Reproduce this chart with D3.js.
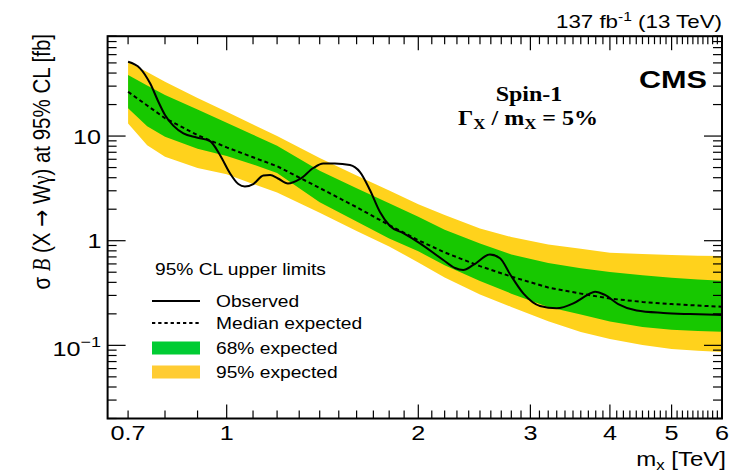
<!DOCTYPE html>
<html><head><meta charset="utf-8">
<script src="https://cdn.jsdelivr.net/npm/d3@7"></script>
<style>html,body{margin:0;background:#fff}svg{display:block}</style>
</head><body>
<svg id="chart" width="729" height="474"></svg>
<script>
// Expected-limit bands (mass in TeV, limits in fb)
const bandMass   = [0.7, 0.75, 0.8, 0.9, 1.0, 1.1, 1.2, 1.4, 1.6, 1.8, 2.0, 2.2, 2.5, 2.8, 3.2, 3.6, 4.0, 4.5, 5.0, 5.5, 6.0];
const exp95Up    = [51.4, 40.9, 33.1, 23.1, 17.1, 12.9, 9.99, 6.16, 4.20, 3.02, 2.23, 1.76, 1.31, 1.085, 0.922, 0.837, 0.768, 0.746, 0.732, 0.720, 0.714];
const exp68Up    = [38.3, 30.5, 24.7, 17.9, 13.4, 10.3, 8.07, 4.66, 3.18, 2.28, 1.69, 1.27, 0.938, 0.740, 0.614, 0.547, 0.502, 0.468, 0.442, 0.427, 0.415];
const expMedian  = [26.5, 19.6, 14.8, 10.2, 7.79, 6.27, 5.15, 3.19, 2.09, 1.41, 1.01, 0.773, 0.571, 0.454, 0.357, 0.312, 0.280, 0.260, 0.248, 0.240, 0.234];
const exp68Down  = [18.4, 12.4, 9.86, 7.57, 6.45, 5.36, 4.43, 2.33, 1.53, 1.05, 0.792, 0.583, 0.412, 0.312, 0.233, 0.197, 0.169, 0.150, 0.141, 0.137, 0.135];
const exp95Down  = [13.2, 8.16, 6.35, 4.94, 4.31, 3.48, 2.89, 1.85, 1.24, 0.882, 0.620, 0.444, 0.307, 0.233, 0.170, 0.134, 0.115, 0.101, 0.0925, 0.0889, 0.0864];

// Observed limit
const obsMass  = [0.70, 0.731, 0.758, 0.781, 0.80, 0.825, 0.855, 0.897, 0.941, 0.976, 1.012, 1.043, 1.068, 1.101, 1.142, 1.170, 1.204, 1.248, 1.304, 1.368, 1.418, 1.479, 1.562, 1.620, 1.679, 1.741, 1.805, 1.894, 2.012, 2.189, 2.284, 2.353, 2.440, 2.592, 2.688, 2.786, 2.924, 3.106, 3.299, 3.504, 3.699, 3.790, 3.930, 4.122, 4.406, 4.852, 5.342, 6.0];
const obsLimit = [51.3, 44.4, 31.9, 21.3, 15.9, 12.5, 10.6, 9.69, 8.97, 6.59, 4.41, 3.48, 3.30, 3.48, 4.20, 4.24, 3.93, 3.52, 3.89, 4.95, 5.47, 5.47, 5.29, 4.53, 3.05, 1.88, 1.38, 1.18, 0.944, 0.654, 0.548, 0.525, 0.586, 0.738, 0.679, 0.481, 0.314, 0.238, 0.226, 0.252, 0.306, 0.326, 0.303, 0.248, 0.215, 0.204, 0.199, 0.195];

// Axis tick labels
const xTickLabels = [0.7, 1, 2, 3, 4, 5, 6];
const xMajorTicks = [1, 2, 3, 4, 5, 6];
const yMajorTicks = [0.1, 1, 10];
const legendLabels = ["Observed", "Median expected", "68% expected", "95% expected"];

const colors = { band68: "#17c800", band95: "#ffd21c", leg68: "#00cc33", leg95: "#ffcc33" };

const svg = d3.select("#chart");
const x = d3.scaleLog().domain([0.65, 6]).range([107.6, 722]);
const y = d3.scaleLog().domain([0.02, 90]).range([418.5, 36.2]);
const [xl, xr] = x.range(), [yb, yt] = y.range();

const SANS = "'Liberation Sans', Arial, Helvetica, sans-serif";
const SERIF = "'Liberation Serif', 'Times New Roman', serif";
const SX = 1.2; // glyphs are drawn slightly wide

function textAt(px, py, anchor, size, opt = {}) {
  let tf = `translate(${px},${py}) scale(${opt.sx || SX},1)`;
  if (opt.rot) tf += ` rotate(${opt.rot})`;
  const g = svg.append("g").attr("transform", tf);
  return g.append("text")
    .attr("text-anchor", anchor)
    .attr("font-size", size)
    .attr("font-family", opt.family || SANS)
    .attr("font-weight", opt.weight || "normal")
    .attr("fill", "#000");
}

svg.append("defs").append("clipPath").attr("id", "plotclip")
  .append("rect").attr("x", xl).attr("y", yt).attr("width", xr - xl).attr("height", yb - yt);

const plot = svg.append("g").attr("clip-path", "url(#plotclip)");
const idx = d3.range(bandMass.length);

const area = (lo, hi) => d3.area()
  .x(i => x(bandMass[i])).y0(i => y(lo[i])).y1(i => y(hi[i]));

plot.append("path").attr("d", area(exp95Down, exp95Up)(idx)).attr("fill", colors.band95);
plot.append("path").attr("d", area(exp68Down, exp68Up)(idx)).attr("fill", colors.band68);

plot.append("path")
  .attr("d", d3.line().x(i => x(bandMass[i])).y(i => y(expMedian[i]))(idx))
  .attr("fill", "none").attr("stroke", "#000").attr("stroke-width", 2)
  .attr("stroke-dasharray", "4,3");

plot.append("path")
  .attr("d", d3.line().curve(d3.curveMonotoneX)
    .x(i => x(obsMass[i])).y(i => y(obsLimit[i]))(d3.range(obsMass.length)))
  .attr("fill", "none").attr("stroke", "#000").attr("stroke-width", 2);

// Ticks on all four sides, pointing inwards
const ticks = svg.append("g").attr("stroke", "#000").attr("stroke-width", 1.2);
const xMinor = [];
for (let v = 7; v <= 60; v++) { const m = v / 10; if (!xMajorTicks.includes(m)) xMinor.push(m); }
const yMinor = [];
[0.01, 0.1, 1, 10].forEach(d => { for (let k = 2; k <= 9; k++) { const v = d * k; if (v >= 0.02 && v <= 90) yMinor.push(+v.toPrecision(3)); } });

function xTicks(vals, len) {
  vals.forEach(v => {
    const px = x(v);
    ticks.append("line").attr("x1", px).attr("x2", px).attr("y1", yb).attr("y2", yb - len);
    ticks.append("line").attr("x1", px).attr("x2", px).attr("y1", yt).attr("y2", yt + len);
  });
}
function yTicks(vals, len) {
  vals.forEach(v => {
    const py = y(v);
    ticks.append("line").attr("x1", xl).attr("x2", xl + len).attr("y1", py).attr("y2", py);
    ticks.append("line").attr("x1", xr).attr("x2", xr - len).attr("y1", py).attr("y2", py);
  });
}
xTicks(xMinor, 8); xTicks(xMajorTicks, 14);
yTicks(yMinor, 9); yTicks(yMajorTicks, 18);

svg.append("rect").attr("x", xl).attr("y", yt).attr("width", xr - xl).attr("height", yb - yt)
  .attr("fill", "none").attr("stroke", "#000").attr("stroke-width", 2);

// Tick labels
xTickLabels.forEach(v => textAt(x(v), 440, "middle", 21).text(String(v)));
textAt(101, y(10) + 7.5, "end", 21).text("10");
textAt(101.5, y(1) + 7.5, "end", 21).text("1");
{
  const t = textAt(101, y(0.1) + 10.5, "end", 21);
  t.append("tspan").text("10");
  t.append("tspan").attr("font-size", 15).attr("dy", -9).text("\u22121");
}

// Axis titles
{
  const t = textAt(726, 466, "end", 20);
  t.append("tspan").text("m");
  t.append("tspan").attr("font-size", 14).attr("dy", 4).text("x");
  t.append("tspan").attr("dy", -4).text(" [TeV]");
}
{
  const t = textAt(50, 34, "end", 20.5, { rot: -90 });
  t.append("tspan").text("\u03c3 ");
  t.append("tspan").attr("font-family", SERIF).attr("font-style", "italic").text("B");
  t.append("tspan").text(" (X ");
  t.append("tspan").attr("font-family", "'DejaVu Sans', sans-serif").text("\u2192");
  t.append("tspan").text(" W");
  t.append("tspan").attr("font-family", SERIF).text("\u03b3");
  t.append("tspan").text(") at 95% CL [fb]");
}

// Header and labels
{
  const t = textAt(722, 28, "end", 18.6);
  t.append("tspan").text("137 fb");
  t.append("tspan").attr("font-size", 13).attr("dy", -7).text("-1");
  t.append("tspan").attr("dy", 7).text(" (13 TeV)");
}
textAt(707, 88, "end", 24.5, { weight: "bold", sx: 1.25 }).text("CMS");
textAt(529, 101, "middle", 20, { weight: "bold", family: SERIF }).text("Spin-1");
{
  const t = textAt(528, 125, "middle", 20, { weight: "bold", family: SERIF });
  t.append("tspan").text("\u0393");
  t.append("tspan").attr("font-size", 14).attr("dy", 4).text("X");
  t.append("tspan").attr("dy", -4).text(" / m");
  t.append("tspan").attr("font-size", 14).attr("dy", 4).text("X");
  t.append("tspan").attr("dy", -4).text(" = 5%");
}

// Legend
textAt(155, 275, "start", 16).text("95% CL upper limits");
const legY = [301, 323, 348, 372];
const lg = svg.append("g");
lg.append("line").attr("x1", 152).attr("x2", 200).attr("y1", legY[0]).attr("y2", legY[0])
  .attr("stroke", "#000").attr("stroke-width", 2);
lg.append("line").attr("x1", 152).attr("x2", 200).attr("y1", legY[1]).attr("y2", legY[1])
  .attr("stroke", "#000").attr("stroke-width", 2).attr("stroke-dasharray", "3.3,2.9");
lg.append("rect").attr("x", 152).attr("y", legY[2] - 6.5).attr("width", 48).attr("height", 13).attr("fill", colors.leg68);
lg.append("rect").attr("x", 152).attr("y", legY[3] - 6.5).attr("width", 48).attr("height", 13).attr("fill", colors.leg95);
legendLabels.forEach((s, i) => textAt(216, legY[i] + 5.5, "start", 16).text(s));
</script>
</body></html>
